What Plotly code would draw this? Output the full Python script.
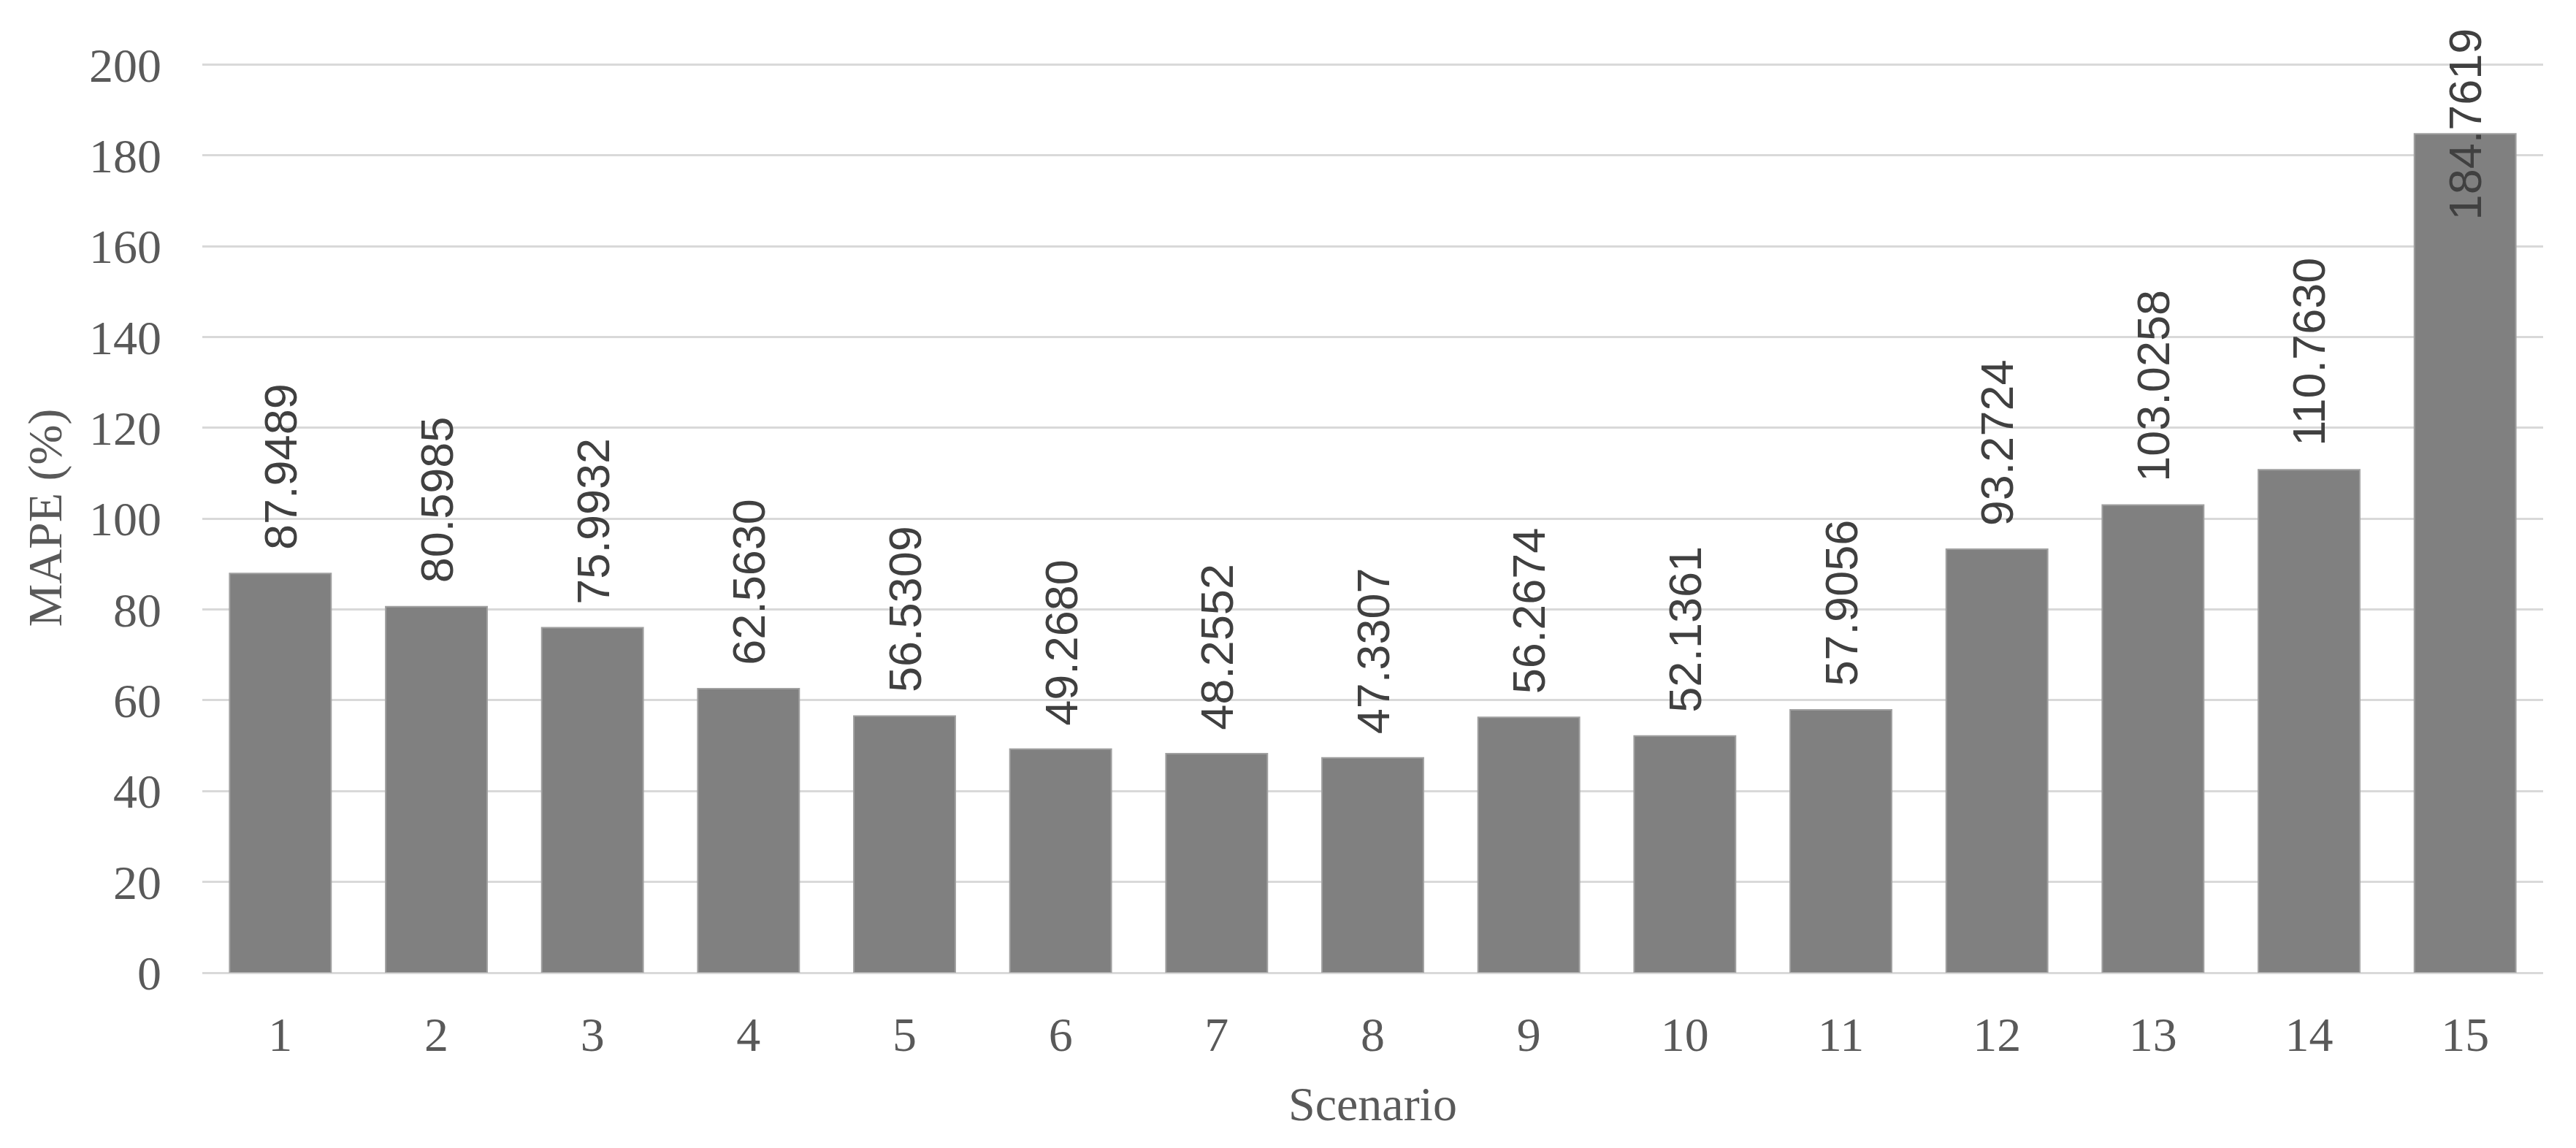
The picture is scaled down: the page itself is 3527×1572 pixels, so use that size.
import plotly.graph_objects as go

# MAPE per scenario
scenarios = [str(i) for i in range(1, 16)]
mape = [87.9489, 80.5985, 75.9932, 62.5630, 56.5309, 49.2680, 48.2552, 47.3307,
        56.2674, 52.1361, 57.9056, 93.2724, 103.0258, 110.7630, 184.7619]
y_ticks = [0, 20, 40, 60, 80, 100, 120, 140, 160, 180, 200]

serif = "Liberation Serif, Times New Roman, serif"
sans = "Liberation Sans, Arial, sans-serif"
grey_txt = "#595959"

fig = go.Figure()
fig.add_trace(go.Bar(
    x=scenarios, y=mape,
    marker=dict(color="#808080", line=dict(color="#a0a0a0", width=2)),
    hoverinfo="x+y",
))

# value labels, rotated, above each bar (last one sits on the bar top)
for i, v in enumerate(mape):
    last = i == len(mape) - 1
    fig.add_annotation(
        x=i, y=v, text=f"{v:.4f}", textangle=-90, showarrow=False,
        yanchor="middle" if last else "bottom",
        yshift=13 if last else 30,
        font=dict(family=sans, size=63, color="#404040"),
    )

# page body adds ~8px offset, margins account for it
fig.update_layout(
    width=3527, height=1572,
    margin=dict(l=269, r=53, t=78, b=248),
    paper_bgcolor="white", plot_bgcolor="white",
    bargap=0.35, showlegend=False,
    font=dict(family=serif, size=66, color=grey_txt),
)
fig.update_xaxes(
    type="category", automargin=True,
    title=dict(text="Scenario", font=dict(family=serif, size=66, color=grey_txt), standoff=35),
    tickfont=dict(family=serif, size=66, color=grey_txt),
    ticks="", showline=False, ticklabelstandoff=40,
)
fig.update_yaxes(
    automargin=False,
    title=dict(text="MAPE (%)", font=dict(family=serif, size=66, color=grey_txt)),
    tickfont=dict(family=serif, size=66, color=grey_txt),
    range=[0, 200.4], tickvals=y_ticks, ticks="",
    showgrid=True, gridcolor="#d9d9d9", gridwidth=3,
    zeroline=True, zerolinecolor="#d9d9d9", zerolinewidth=3,
    ticklabelstandoff=55,
)

fig.write_html("out.html")
